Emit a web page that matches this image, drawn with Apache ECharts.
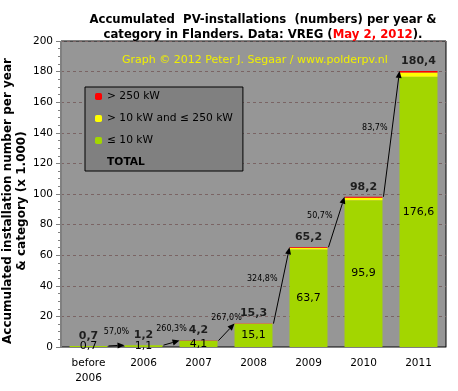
<!DOCTYPE html>
<html><head><meta charset="utf-8">
<script src="https://cdn.jsdelivr.net/npm/echarts@6/dist/echarts.min.js"></script>
<style>html,body{margin:0;padding:0;background:#fff}#c{width:458px;height:391px}</style>
</head><body><div id="c"></div>
<script>
const categories = ['before\n2006', '2006', '2007', '2008', '2009', '2010', '2011'];
const upTo10kW = [0.7, 1.1, 4.1, 15.1, 63.7, 95.9, 176.6];
const from10to250kW = [0.01, 0.06, 0.06, 0.12, 1.0, 1.6, 2.8];
const above250kW = [0.01, 0.04, 0.04, 0.08, 0.5, 0.7, 1.0];
const totals = [0.7, 1.2, 4.2, 15.3, 65.2, 98.2, 180.4];
const growthLabels = ['57,0%', '260,3%', '267,0%', '324,8%', '50,7%', '83,7%'];
const yMin = 0, yMax = 200, yInterval = 20;
const yAxisTitle = 'Accumulated installation number per year\n& category (x 1.000)';

const FONT = '"DejaVu Sans", Verdana, sans-serif';
const GAP = 0.31;           // category gap fraction
const BAR_RATIO = 1 - GAP;
const fmt = v => v.toFixed(1).replace('.', ',');

const arrowData = growthLabels.map((g, i) => [i, totals[i], totals[i + 1]]);

function renderArrow(params, api) {
  const i = api.value(0);
  const p1 = api.coord([i, api.value(1)]);
  const p2 = api.coord([i + 1, api.value(2)]);
  const half = api.size([1, 0])[0] * BAR_RATIO / 2;
  const x1 = p1[0] + half + 1, y1 = p1[1];
  const x2 = p2[0] - half, y2 = p2[1];
  const dx = x2 - x1, dy = y2 - y1, len = Math.hypot(dx, dy);
  const ux = dx / len, uy = dy / len;
  const ah = 7, aw = 3;
  const bx = x2 - ux * ah, by = y2 - uy * ah;
  const steep = Math.abs(dy) > 30;
  const mx = (x1 + x2) / 2, my = (y1 + y2) / 2;
  const tx = steep ? mx - 4 : mx, ty = steep ? my - 6 : my - 14;
  const al = steep ? 'right' : 'center';
  return {
    type: 'group',
    children: [
      { type: 'line', shape: { x1: x1, y1: y1, x2: bx, y2: by }, style: { stroke: '#000', lineWidth: 1 } },
      { type: 'polygon', shape: { points: [[x2, y2], [bx - uy * aw, by + ux * aw], [bx + uy * aw, by - ux * aw]] }, style: { fill: '#000' } },
      { type: 'text', x: tx, y: ty, style: { text: growthLabels[i], fill: '#000', font: '8px ' + FONT, align: al, verticalAlign: 'middle', textAlign: al, textVerticalAlign: 'middle' } }
    ]
  };
}

const chart = echarts.init(document.getElementById('c'), null, { renderer: 'canvas' });
chart.setOption({
  animation: false,
  backgroundColor: '#fff',
  textStyle: { fontFamily: FONT },
  title: [{
    text: 'Accumulated  PV-installations  (numbers) per year &\ncategory in Flanders. Data: VREG ({r|May 2, 2012}).',
    left: 258, top: 7, textAlign: 'center',
    textStyle: {
      fontFamily: FONT, fontSize: 11.7, fontWeight: 'bold', color: '#000', lineHeight: 15,
      rich: { r: { color: '#ff0000', fontFamily: FONT, fontSize: 11.7, fontWeight: 'bold' } }
    }
  }, {
    text: 'Graph © 2012 Peter J. Segaar / www.polderpv.nl',
    left: 117, top: 50,
    textStyle: { fontFamily: FONT, fontSize: 11, fontWeight: 'normal', color: '#f0f000' }
  }],
  graphic: [{
    type: 'text', x: 15, y: 201, rotation: Math.PI / 2, silent: true,
    style: {
      text: yAxisTitle, fill: '#000', font: 'bold 12px ' + FONT, lineHeight: 14,
      align: 'center', verticalAlign: 'middle', textAlign: 'center', textVerticalAlign: 'middle'
    }
  }],
  legend: {
    orient: 'vertical', left: 85, top: 87,
    backgroundColor: '#808080', borderColor: '#000', borderWidth: 1,
    padding: [4, 10, 3, 10], itemGap: 11, itemWidth: 7, itemHeight: 7,
    textStyle: { fontFamily: FONT, fontSize: 10.7, color: '#000' },
    data: [
      { name: '> 250 kW' },
      { name: '> 10 kW and ≤ 250 kW' },
      { name: '≤ 10 kW' },
      { name: 'TOTAL', icon: 'none', textStyle: { fontWeight: 'bold' } }
    ]
  },
  grid: {
    left: 61, top: 41, right: 12, bottom: 44,
    outerBoundsMode: 'none', containLabel: false,
    show: true, backgroundColor: '#969696', borderColor: '#000', borderWidth: 1
  },
  xAxis: {
    type: 'category', data: categories,
    axisLine: { lineStyle: { color: '#808080' } },
    axisTick: { lineStyle: { color: '#808080' }, length: 5 },
    axisLabel: { color: '#000', fontSize: 10.5, fontFamily: FONT, lineHeight: 15, margin: 9 }
  },
  yAxis: {
    type: 'value', min: yMin, max: yMax, interval: yInterval,
    axisLine: { show: true, lineStyle: { color: '#808080' } },
    axisTick: { show: true, length: 5, lineStyle: { color: '#808080' } },
    minorTick: { show: true, splitNumber: 4, length: 3, lineStyle: { color: '#808080' } },
    splitLine: { lineStyle: { color: '#7a6464', type: [3, 3], width: 1 } },
    axisLabel: { color: '#000', fontSize: 10.5, fontFamily: FONT, margin: 8 }
  },
  series: [
    {
      name: '≤ 10 kW', type: 'bar', stack: 'a', data: upTo10kW, barCategoryGap: (GAP * 100) + '%',
      itemStyle: { color: '#a3d600' },
      label: { show: true, position: 'inside', color: '#000', fontSize: 11, fontFamily: FONT, formatter: p => fmt(p.value) }
    },
    { name: '> 10 kW and ≤ 250 kW', type: 'bar', stack: 'a', data: from10to250kW, itemStyle: { color: '#ffff00' } },
    { name: '> 250 kW', type: 'bar', stack: 'a', data: above250kW, itemStyle: { color: '#ff0000' } },
    {
      name: 'TOTAL', type: 'scatter', data: totals, symbolSize: 1,
      itemStyle: { color: 'rgba(0,0,0,0)' }, z: 5,
      label: { show: true, position: 'top', distance: 4, color: '#000', fontSize: 11, fontWeight: 'bold', fontFamily: FONT, formatter: p => fmt(p.value) }
    },
    { name: 'growth', type: 'custom', data: arrowData, renderItem: renderArrow, z: 6, clip: false }
  ]
});
</script></body></html>
